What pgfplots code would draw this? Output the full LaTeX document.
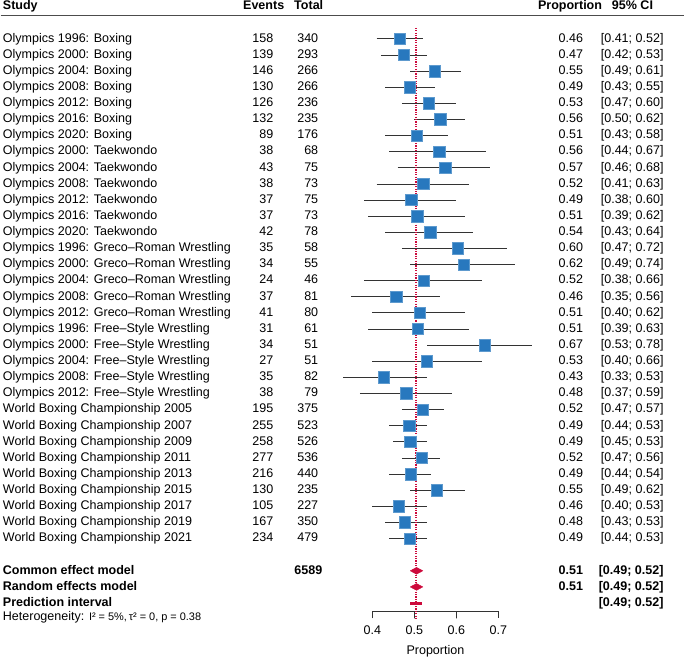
\documentclass[border=0pt]{standalone}
\usepackage{pgfplots}
\pgfplotsset{compat=1.18}
\usepackage{pgfplotstable}
\usepackage{fontspec}
\setmainfont{Liberation Sans}
\definecolor{sqblue}{RGB}{40,120,190}
\definecolor{fred}{RGB}{205,10,60}

\pgfplotstableread{
row est
1 0.465
2 0.474
3 0.549
4 0.489
5 0.534
6 0.562
7 0.506
8 0.559
9 0.573
10 0.521
11 0.493
12 0.507
13 0.538
14 0.603
15 0.618
16 0.522
17 0.457
18 0.513
19 0.508
20 0.667
21 0.529
22 0.427
23 0.481
24 0.520
25 0.488
26 0.490
27 0.517
28 0.491
29 0.553
30 0.463
31 0.477
32 0.489
}\studies

\newcommand{\srow}[6]{%
  \node[anchor=mid west, inner sep=0pt] at (axis cs:-0.481,#1) {#2};
  \node[anchor=mid east, inner sep=0pt] at (axis cs:0.1643,#1) {#3};
  \node[anchor=mid east, inner sep=0pt] at (axis cs:0.2714,#1) {#4};
  \node[anchor=mid east, inner sep=0pt] at (axis cs:0.9024,#1) {#5};
  \node[anchor=mid east, inner sep=0pt] at (axis cs:1.094,#1) {#6};
}

\begin{document}
\fontsize{9.4}{11}\selectfont
\begin{tikzpicture}
\begin{axis}[
  width=513.75pt, height=494.25pt, scale only axis,
  xmin=-0.4857, xmax=1.1452, ymin=-1.418, ymax=39.437, y dir=reverse,
  hide axis, clip=false,
  unbounded coords=jump,
]
% confidence intervals
\addplot[black!80, line width=0.6pt] coordinates {
(0.41,1) (0.52,1) (nan,nan)
(0.42,2) (0.53,2) (nan,nan)
(0.49,3) (0.61,3) (nan,nan)
(0.43,4) (0.55,4) (nan,nan)
(0.47,5) (0.60,5) (nan,nan)
(0.50,6) (0.62,6) (nan,nan)
(0.43,7) (0.58,7) (nan,nan)
(0.44,8) (0.67,8) (nan,nan)
(0.46,9) (0.68,9) (nan,nan)
(0.41,10) (0.63,10) (nan,nan)
(0.38,11) (0.60,11) (nan,nan)
(0.39,12) (0.62,12) (nan,nan)
(0.43,13) (0.64,13) (nan,nan)
(0.47,14) (0.72,14) (nan,nan)
(0.49,15) (0.74,15) (nan,nan)
(0.38,16) (0.66,16) (nan,nan)
(0.35,17) (0.56,17) (nan,nan)
(0.40,18) (0.62,18) (nan,nan)
(0.39,19) (0.63,19) (nan,nan)
(0.53,20) (0.78,20) (nan,nan)
(0.40,21) (0.66,21) (nan,nan)
(0.33,22) (0.53,22) (nan,nan)
(0.37,23) (0.59,23) (nan,nan)
(0.47,24) (0.57,24) (nan,nan)
(0.44,25) (0.53,25) (nan,nan)
(0.45,26) (0.53,26) (nan,nan)
(0.47,27) (0.56,27) (nan,nan)
(0.44,28) (0.54,28) (nan,nan)
(0.49,29) (0.62,29) (nan,nan)
(0.40,30) (0.53,30) (nan,nan)
(0.43,31) (0.53,31) (nan,nan)
(0.44,32) (0.53,32)
};
% study squares
\addplot[only marks, mark=square*, mark size=4.3pt,
  mark options={fill=sqblue, draw=sqblue!75!white, line width=0.4pt}]
  table[x=est, y=row] {\studies};
% common & random effects diamonds
\addplot[fill=fred, draw=fred, line width=0.3pt] coordinates {
(0.490,34) (0.505,33.79) (0.520,34) (0.505,34.21) (0.490,34)};
\addplot[fill=fred, draw=fred, line width=0.3pt] coordinates {
(0.490,35) (0.505,34.79) (0.520,35) (0.505,35.21) (0.490,35)};
% prediction interval
\addplot[fred, line width=2.2pt] coordinates {(0.490,36) (0.518,36)};
% x axis
\addplot[black!80, line width=0.6pt] coordinates {
(0.4,36.95) (0.4,36.52) (0.5,36.52) (0.5,36.95) (0.5,36.52) (0.6,36.52)
(0.6,36.95) (0.6,36.52) (0.7,36.52) (0.7,36.95)};
% common effect line
\addplot[fred, line width=1.3pt, dash pattern=on 0.9pt off 0.9pt] coordinates {(0.503,0.32) (0.503,36.95)};
% header rule
\addplot[black!70, line width=1pt] coordinates {(-0.4857,-0.444) (1.143,-0.444)};

% header
\node[anchor=mid west, inner sep=0pt, font=\bfseries] at (axis cs:-0.481,-1.05) {Study};
\node[anchor=mid east, inner sep=0pt, font=\bfseries] at (axis cs:0.1905,-1.05) {Events};
\node[anchor=mid east, inner sep=0pt, font=\bfseries] at (axis cs:0.2833,-1.05) {Total};
\node[anchor=mid east, inner sep=0pt, font=\bfseries] at (axis cs:0.9476,-1.05) {Proportion};
\node[anchor=mid east, inner sep=0pt, font=\bfseries] at (axis cs:1.069,-1.05) {95\% CI};

\srow{1}{Olympics 1996: Boxing}{158}{340}{0.46}{[0.41; 0.52]}
\srow{2}{Olympics 2000: Boxing}{139}{293}{0.47}{[0.42; 0.53]}
\srow{3}{Olympics 2004: Boxing}{146}{266}{0.55}{[0.49; 0.61]}
\srow{4}{Olympics 2008: Boxing}{130}{266}{0.49}{[0.43; 0.55]}
\srow{5}{Olympics 2012: Boxing}{126}{236}{0.53}{[0.47; 0.60]}
\srow{6}{Olympics 2016: Boxing}{132}{235}{0.56}{[0.50; 0.62]}
\srow{7}{Olympics 2020: Boxing}{89}{176}{0.51}{[0.43; 0.58]}
\srow{8}{Olympics 2000: Taekwondo}{38}{68}{0.56}{[0.44; 0.67]}
\srow{9}{Olympics 2004: Taekwondo}{43}{75}{0.57}{[0.46; 0.68]}
\srow{10}{Olympics 2008: Taekwondo}{38}{73}{0.52}{[0.41; 0.63]}
\srow{11}{Olympics 2012: Taekwondo}{37}{75}{0.49}{[0.38; 0.60]}
\srow{12}{Olympics 2016: Taekwondo}{37}{73}{0.51}{[0.39; 0.62]}
\srow{13}{Olympics 2020: Taekwondo}{42}{78}{0.54}{[0.43; 0.64]}
\srow{14}{Olympics 1996: Greco--Roman Wrestling}{35}{58}{0.60}{[0.47; 0.72]}
\srow{15}{Olympics 2000: Greco--Roman Wrestling}{34}{55}{0.62}{[0.49; 0.74]}
\srow{16}{Olympics 2004: Greco--Roman Wrestling}{24}{46}{0.52}{[0.38; 0.66]}
\srow{17}{Olympics 2008: Greco--Roman Wrestling}{37}{81}{0.46}{[0.35; 0.56]}
\srow{18}{Olympics 2012: Greco--Roman Wrestling}{41}{80}{0.51}{[0.40; 0.62]}
\srow{19}{Olympics 1996: Free--Style Wrestling}{31}{61}{0.51}{[0.39; 0.63]}
\srow{20}{Olympics 2000: Free--Style Wrestling}{34}{51}{0.67}{[0.53; 0.78]}
\srow{21}{Olympics 2004: Free--Style Wrestling}{27}{51}{0.53}{[0.40; 0.66]}
\srow{22}{Olympics 2008: Free--Style Wrestling}{35}{82}{0.43}{[0.33; 0.53]}
\srow{23}{Olympics 2012: Free--Style Wrestling}{38}{79}{0.48}{[0.37; 0.59]}
\srow{24}{World Boxing Championship 2005}{195}{375}{0.52}{[0.47; 0.57]}
\srow{25}{World Boxing Championship 2007}{255}{523}{0.49}{[0.44; 0.53]}
\srow{26}{World Boxing Championship 2009}{258}{526}{0.49}{[0.45; 0.53]}
\srow{27}{World Boxing Championship 2011}{277}{536}{0.52}{[0.47; 0.56]}
\srow{28}{World Boxing Championship 2013}{216}{440}{0.49}{[0.44; 0.54]}
\srow{29}{World Boxing Championship 2015}{130}{235}{0.55}{[0.49; 0.62]}
\srow{30}{World Boxing Championship 2017}{105}{227}{0.46}{[0.40; 0.53]}
\srow{31}{World Boxing Championship 2019}{167}{350}{0.48}{[0.43; 0.53]}
\srow{32}{World Boxing Championship 2021}{234}{479}{0.49}{[0.44; 0.53]}

% summary rows
\node[anchor=mid west, inner sep=0pt, font=\bfseries] at (axis cs:-0.481,34) {Common effect model};
\node[anchor=mid east, inner sep=0pt, font=\bfseries] at (axis cs:0.281,34) {6589};
\node[anchor=mid east, inner sep=0pt, font=\bfseries] at (axis cs:0.9024,34) {0.51};
\node[anchor=mid east, inner sep=0pt, font=\bfseries] at (axis cs:1.094,34) {[0.49; 0.52]};
\node[anchor=mid west, inner sep=0pt, font=\bfseries] at (axis cs:-0.481,35) {Random effects model};
\node[anchor=mid east, inner sep=0pt, font=\bfseries] at (axis cs:0.9024,35) {0.51};
\node[anchor=mid east, inner sep=0pt, font=\bfseries] at (axis cs:1.094,35) {[0.49; 0.52]};
\node[anchor=mid west, inner sep=0pt, font=\bfseries] at (axis cs:-0.481,36) {Prediction interval};
\node[anchor=mid east, inner sep=0pt, font=\bfseries] at (axis cs:1.094,36) {[0.49; 0.52]};
\node[anchor=mid west, inner sep=0pt] at (axis cs:-0.481,36.87) {Heterogeneity: {\fontsize{8.2}{9}\selectfont I² = 5\%,\,τ² = 0, p = 0.38}};

% tick labels and axis label
\node[anchor=mid, inner sep=0pt] at (axis cs:0.4,37.72) {0.4};
\node[anchor=mid, inner sep=0pt] at (axis cs:0.5,37.72) {0.5};
\node[anchor=mid, inner sep=0pt] at (axis cs:0.6,37.72) {0.6};
\node[anchor=mid, inner sep=0pt] at (axis cs:0.7,37.72) {0.7};
\node[anchor=mid, inner sep=0pt] at (axis cs:0.55,38.98) {Proportion};
\end{axis}
\end{tikzpicture}
\end{document}
